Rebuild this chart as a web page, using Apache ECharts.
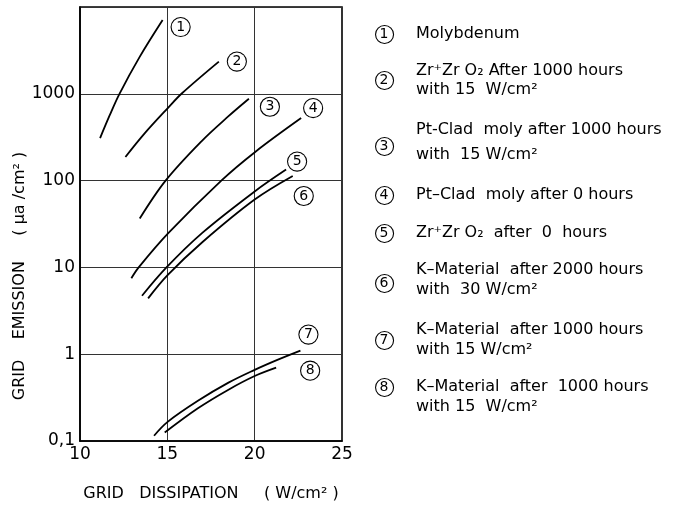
<!DOCTYPE html>
<html>
<head>
<meta charset="utf-8">
<script src="https://cdn.jsdelivr.net/npm/echarts@6/dist/echarts.min.js"></script>
<style>html,body{margin:0;padding:0;background:#fff}#c{width:678px;height:507px}</style>
</head>
<body>
<div id="c"></div>
<script>
// ---- data (x = grid dissipation W/cm², y = grid emission µa/cm²) ----
var curve1 = [[11.15,309],[11.69,560],[12.26,1000],[13.4,2630],[14.73,7080]];
var curve2 = [[12.6,187],[13.7,350],[15.04,690],[15.84,1015],[17.95,2350]];
var curve3 = [[13.42,36.6],[14.9,100],[16.94,282],[18.47,545],[19.67,877]];
var curve4 = [[12.94,7.5],[13.36,10],[15.04,24.6],[18.09,100],[20.03,214],[22.66,525]];
var curve5 = [[13.55,4.72],[14.95,10],[17,25],[20,75],[21.8,134]];
var curve6 = [[13.9,4.4],[15,8.1],[17,19.5],[20,60.5],[22.18,113]];
var curve7 = [[14.24,0.115],[15,0.165],[16.75,0.29],[18.5,0.47],[20,0.66],[21.3,0.86],[22.62,1.1]];
var curve8 = [[14.85,0.125],[16.75,0.238],[18.5,0.39],[20,0.56],[21.23,0.70]];
var curveNumbers = ['1','2','3','4','5','6','7','8'];
var legendLines = [
  ['Molybdenum'],
  ['Zr\u207AZr O\u2082 After 1000 hours','with 15  W/cm\u00B2'],
  ['Pt-Clad  moly after 1000 hours','with  15 W/cm\u00B2'],
  ['Pt\u2013Clad  moly after 0 hours'],
  ['Zr\u207AZr O\u2082  after  0  hours'],
  ['K\u2013Material  after 2000 hours','with  30 W/cm\u00B2'],
  ['K\u2013Material  after 1000 hours','with 15 W/cm\u00B2'],
  ['K\u2013Material  after  1000 hours','with 15  W/cm\u00B2']
];
var xTicks = [10, 15, 20, 25];
var yTicks = [0.1, 1, 10, 100, 1000];
var xTitle = 'GRID   DISSIPATION     ( W/cm\u00B2 )';
var yTitle = 'GRID    EMISSION     ( \u03BCa /cm\u00B2 )';

// ---- layout / styles ----
var curves = [curve1, curve2, curve3, curve4, curve5, curve6, curve7, curve8];
var endOffsets = [[18,7],[18,0],[21,8],[12,-10],[11,-8],[11,20],[8,-16],[34,3]];
var legendCircleY = [34, 80, 146, 195, 233, 283, 340, 387];
var legendLineY = [[34],[71,90],[130,155],[195],[233],[270,290],[330,350],[387,407]];
var FONT = 'DejaVu Sans';

var series = curves.map(function (c, i) {
  return {
    type: 'line', data: c, smooth: 0.35, symbol: 'none', silent: true,
    lineStyle: { color: '#000', width: 1.8 },
    endLabel: {
      show: true, formatter: curveNumbers[i], distance: 0,
      offset: endOffsets[i], align: 'center', verticalAlign: 'middle',
      width: 18, height: 18, lineHeight: 18, borderRadius: 9,
      borderColor: '#000', borderWidth: 1.1, backgroundColor: '#fff',
      color: '#000', fontFamily: FONT, fontSize: 14
    }
  };
});

var graphic = [];
legendLines.forEach(function (lines, i) {
  graphic.push({ type: 'circle', left: 375, top: legendCircleY[i] - 9,
    shape: { r: 9 }, style: { fill: '#fff', stroke: '#000', lineWidth: 1.1 } });
  graphic.push({ type: 'text', x: 384, y: legendCircleY[i] + 0.5,
    style: { text: curveNumbers[i], fill: '#000', font: '14px ' + FONT, align: 'center', verticalAlign: 'middle' } });
  lines.forEach(function (t, j) {
    graphic.push({ type: 'text', x: 416, y: legendLineY[i][j],
      style: { text: t, fill: '#000', font: '16px ' + FONT, align: 'left', verticalAlign: 'middle' } });
  });
});

var chart = echarts.init(document.getElementById('c'), null, { renderer: 'canvas' });
chart.setOption({
  animation: false,
  backgroundColor: '#fff',
  grid: { left: 80, top: 7, right: 336, bottom: 66, show: true, borderColor: '#000', borderWidth: 1.6, backgroundColor: 'transparent' },
  xAxis: {
    type: 'value', min: xTicks[0], max: xTicks[xTicks.length - 1], interval: 5,
    name: xTitle, nameLocation: 'middle', nameGap: 45,
    nameTextStyle: { fontFamily: FONT, fontSize: 16, color: '#000' },
    axisLine: { show: true, lineStyle: { color: '#000', width: 1.6 } },
    axisTick: { show: false },
    axisLabel: { fontFamily: FONT, fontSize: 17, color: '#000', margin: 5 },
    splitLine: { show: true, lineStyle: { color: '#333', width: 1 } }
  },
  yAxis: {
    type: 'log', logBase: 10, min: yTicks[0], max: 10000,
    name: yTitle, nameLocation: 'middle', nameGap: 48, nameRotate: 90,
    nameTextStyle: { fontFamily: FONT, fontSize: 16, color: '#000', padding: [0, 104, 0, 0] },
    axisLine: { show: true, lineStyle: { color: '#000', width: 1.6 } },
    axisTick: { show: false },
    axisLabel: {
      fontFamily: FONT, fontSize: 17, color: '#000', margin: 5,
      formatter: function (v) {
        if (v > 5000) return '';
        if (Math.abs(v - 0.1) < 1e-6) return '0,1';
        return String(Math.round(v));
      }
    },
    splitLine: { show: true, lineStyle: { color: '#333', width: 1 } }
  },
  series: series,
  graphic: graphic
});
</script>
</body>
</html>
